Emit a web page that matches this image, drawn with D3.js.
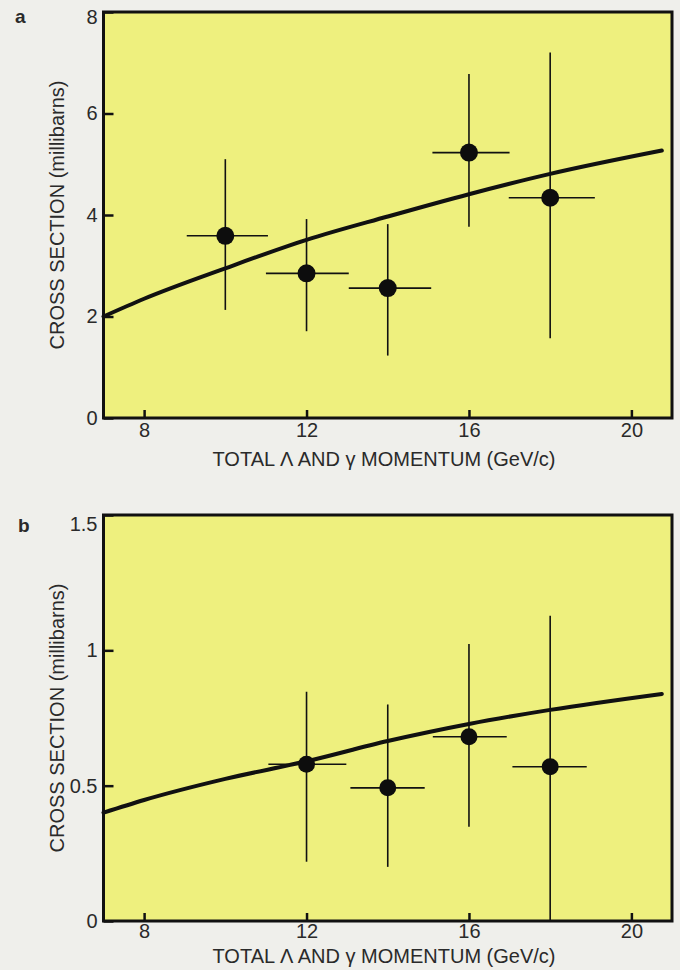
<!DOCTYPE html>
<html>
<head>
<meta charset="utf-8">
<script src="https://cdn.jsdelivr.net/npm/d3@7/dist/d3.min.js"></script>
<style>
  html, body { margin: 0; padding: 0; background: #efefeb; }
  svg { display: block; }
  text { font-family: "Liberation Sans", Arial, Helvetica, sans-serif; fill: #2a2a2a; }
</style>
</head>
<body>
<svg id="chart" width="680" height="970"></svg>
<script>
// ---- Panel a: cross section vs. total momentum ----
const aMomentum  = [10, 12, 14, 16, 18];
const aSigma     = [3.59, 2.85, 2.56, 5.23, 4.34];
const aSigmaHi   = [5.10, 3.92, 3.82, 6.78, 7.20];
const aSigmaLo   = [2.13, 1.71, 1.23, 3.77, 1.57];
const aBinLo     = [9.05, 11.0, 13.04, 15.1, 16.98];
const aBinHi     = [11.05, 13.04, 15.07, 17.0, 19.1];
const aCurveX    = [7, 8, 10, 12, 14, 16, 18, 20.75];
const aCurveY    = [2.0, 2.35, 2.95, 3.51, 3.97, 4.41, 4.81, 5.27];
const aYTicks    = [0, 2, 4, 6, 8];

// ---- Panel b ----
const bMomentum  = [12, 14, 16, 18];
const bSigma     = [0.579, 0.492, 0.681, 0.570];
const bSigmaHi   = [0.847, 0.80, 1.023, 1.128];
const bSigmaLo   = [0.219, 0.20, 0.348, 0.0];
const bBinLo     = [11.06, 13.08, 15.11, 17.07];
const bBinHi     = [12.98, 14.91, 16.93, 18.9];
const bCurveX    = [7, 8, 10, 12, 14, 16, 18, 20.75];
const bCurveY    = [0.40, 0.447, 0.525, 0.59, 0.665, 0.728, 0.78, 0.839];
const bYTicks    = [0, 0.5, 1, 1.5];
const bYTickText = ["0", "0.5", "1", "1.5"];

const xTicks     = [8, 12, 16, 20];
const xTitle     = "TOTAL \u039B AND \u03B3 MOMENTUM (GeV/c)";
const yTitle     = "CROSS SECTION (millibarns)";

const svg = d3.select("#chart");

function panel(cfg) {
  const x = d3.scaleLinear().domain([7, 21]).range([103.5, 672]);
  const y = d3.scaleLinear().domain(cfg.yDomain).range([cfg.bottom, cfg.top]);
  const g = svg.append("g");

  // plot background
  g.append("rect")
    .attr("x", x(7)).attr("y", y(cfg.yDomain[1]))
    .attr("width", x(21) - x(7)).attr("height", y(0) - y(cfg.yDomain[1]))
    .attr("fill", "#eef07e");

  // inward ticks
  const xAxis = d3.axisBottom(x).tickValues(xTicks).tickSize(-8).tickPadding(cfg.xPad);
  const yAxis = d3.axisLeft(y).tickValues(cfg.yTicks).tickSize(-10).tickPadding(6)
    .tickFormat((d, i) => cfg.yTickText ? cfg.yTickText[i] : d3.format("d")(d));

  const gx = g.append("g").attr("transform", `translate(0,${y(0)})`).call(xAxis);
  const gy = g.append("g").attr("transform", `translate(${x(7)},0)`).call(yAxis);
  [gx, gy].forEach(a => {
    a.select(".domain").remove();
    a.selectAll(".tick line").attr("stroke", "#111").attr("stroke-width", 2.5);
    a.selectAll(".tick text").attr("font-size", 20).attr("fill", "#2a2a2a")
      .attr("font-family", "Liberation Sans, Arial, sans-serif");
  });
  // the top label sits just below the frame corner
  gy.selectAll(".tick text")
    .filter(d => d === cfg.yDomain[1])
    .attr("y", cfg.topLabelDrop);

  // fitted curve
  const line = d3.line()
    .x(d => x(d[0])).y(d => y(d[1]))
    .curve(d3.curveMonotoneX);
  g.append("path")
    .datum(d3.zip(cfg.curveX, cfg.curveY))
    .attr("d", line)
    .attr("fill", "none").attr("stroke", "#111").attr("stroke-width", 4)
    .attr("stroke-linecap", "round");

  // data points with error bars
  const pts = cfg.mom.map((m, i) => ({
    m, s: cfg.sig[i], hi: cfg.hi[i], lo: cfg.lo[i], b0: cfg.b0[i], b1: cfg.b1[i]
  }));
  const pg = g.append("g").selectAll("g").data(pts).join("g");
  pg.append("line")
    .attr("x1", d => x(d.m)).attr("x2", d => x(d.m))
    .attr("y1", d => y(d.hi)).attr("y2", d => y(d.lo))
    .attr("stroke", "#111").attr("stroke-width", 1.6);
  pg.append("line")
    .attr("x1", d => x(d.b0)).attr("x2", d => x(d.b1))
    .attr("y1", d => y(d.s)).attr("y2", d => y(d.s))
    .attr("stroke", "#111").attr("stroke-width", 1.6);
  pg.append("circle")
    .attr("cx", d => x(d.m)).attr("cy", d => y(d.s))
    .attr("r", cfg.r).attr("fill", "#0d0d0d");

  // frame
  g.append("rect")
    .attr("x", x(7)).attr("y", y(cfg.yDomain[1]))
    .attr("width", x(21) - x(7)).attr("height", y(0) - y(cfg.yDomain[1]))
    .attr("fill", "none").attr("stroke", "#111").attr("stroke-width", 3);

  // titles
  g.append("text")
    .attr("x", 384).attr("y", y(0) + cfg.titleGap)
    .attr("text-anchor", "middle").attr("font-size", 20)
    .text(xTitle);
  g.append("text")
    .attr("transform", `translate(64,${(y(0) + y(cfg.yDomain[1])) / 2}) rotate(-90)`)
    .attr("text-anchor", "middle").attr("font-size", 20)
    .text(yTitle);
  g.append("text")
    .attr("x", cfg.tagX).attr("y", cfg.tagY)
    .attr("font-size", 19).attr("font-weight", "bold")
    .text(cfg.tag);
}

panel({
  yDomain: [0, 8], top: 12, bottom: 418, yTicks: aYTicks, xPad: 5, titleGap: 48,
  topLabelDrop: 5,
  mom: aMomentum, sig: aSigma, hi: aSigmaHi, lo: aSigmaLo, b0: aBinLo, b1: aBinHi,
  curveX: aCurveX, curveY: aCurveY, r: 9, tag: "a", tagX: 15, tagY: 23
});
panel({
  yDomain: [0, 1.5], top: 515, bottom: 921, yTicks: bYTicks, yTickText: bYTickText,
  xPad: 3, titleGap: 42, topLabelDrop: 9,
  mom: bMomentum, sig: bSigma, hi: bSigmaHi, lo: bSigmaLo, b0: bBinLo, b1: bBinHi,
  curveX: bCurveX, curveY: bCurveY, r: 8.5, tag: "b", tagX: 18, tagY: 532
});
</script>
</body>
</html>
